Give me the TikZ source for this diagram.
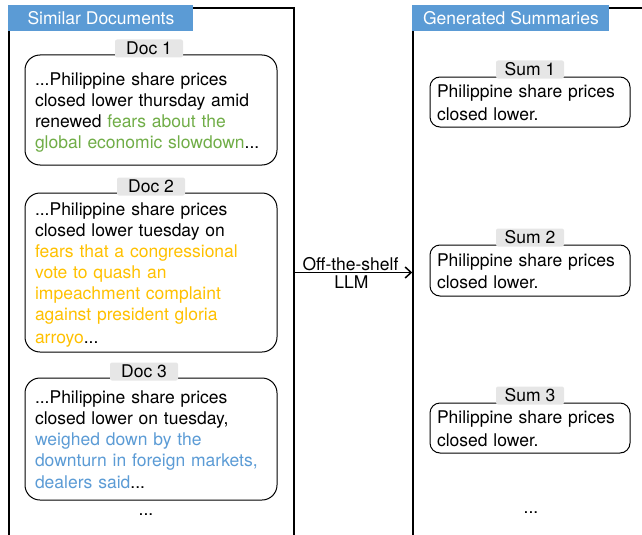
\documentclass[tikz,border=0pt]{standalone}
\usepackage{fontspec}
\setmainfont{TeX Gyre Heros}
\usepackage{tikz}
\usetikzlibrary{arrows.meta}

\definecolor{hdrblue}{HTML}{5B9BD5}
\definecolor{hlgreen}{HTML}{70AD47}
\definecolor{hlgold}{HTML}{FFC000}
\definecolor{hlblue}{HTML}{5B9BD5}
\definecolor{taggray}{HTML}{E6E6E6}

\newcommand{\linestrut}{\rule[-3.5pt]{0pt}{21pt}}

\tikzset{
    every node/.style={font=\fontsize{17.5}{21}\selectfont},
    panel/.style={draw, line width=1.5pt, minimum height=529pt, inner sep=0pt},
    header/.style={fill=hdrblue, text=white, minimum height=26pt, inner sep=0pt, anchor=north west},
    docbox/.style={draw, line width=1pt, rounded corners=15pt, minimum width=252pt, text width=232pt, inner xsep=10pt, inner ysep=0pt, align=left,
        execute at begin node=\linestrut, execute at end node=\linestrut},
    sumbox/.style={draw, line width=1pt, rounded corners=10pt, minimum width=200pt, text width=186pt, inner xsep=7pt, inner ysep=0pt, align=left,
        execute at begin node=\linestrut, execute at end node=\linestrut},
    tag/.style={fill=taggray, rounded corners=2pt, minimum width=68pt, minimum height=18pt, inner sep=0pt},
    llm/.style={-{Straight Barb[length=6pt, width=11pt]}, line width=1.5pt}
}

\begin{document}
\begin{tikzpicture}[x=1pt, y=-1pt]
    \useasboundingbox (0,0) rectangle (642,535);
    \clip (0,0) rectangle (642,535);

    % Panels
    \node[panel, minimum width=285pt] (docpanel) at (151.5,272.5) {};
    \node[panel, minimum width=257pt] (sumpanel) at (541.5,272.5) {};
    \node[header, minimum width=185pt] (dochead) at ([yshift=2pt]docpanel.north west) {Similar Documents};
    \node[header, minimum width=197pt] (sumhead) at ([yshift=2pt]sumpanel.north west) {Generated Summaries};

    % Documents
    \node[docbox, minimum height=110pt] (doc1) at (151,110) {...Philippine share prices\\
        closed lower thursday amid\\
        renewed \textcolor{hlgreen}{fears about the}\\
        \textcolor{hlgreen}{global economic slowdown}...};
    \node[docbox, minimum height=159pt] (doc2) at (151,272.5) {...Philippine share prices\\
        closed lower tuesday on\\
        \textcolor{hlgold}{fears that a congressional}\\
        \textcolor{hlgold}{vote to quash an}\\
        \textcolor{hlgold}{impeachment complaint}\\
        \textcolor{hlgold}{against president gloria}\\
        \textcolor{hlgold}{arroyo}...};
    \node[docbox, minimum height=122pt] (doc3) at (151,439) {...Philippine share prices\\
        closed lower on tuesday,\\
        \textcolor{hlblue}{weighed down by the}\\
        \textcolor{hlblue}{downturn in foreign markets,}\\
        \textcolor{hlblue}{dealers said}...};
    \node[tag] (doctag1) at ([xshift=-2pt, yshift=6pt]doc1.north) {Doc 1};
    \node[tag] (doctag2) at ([yshift=6pt]doc2.north) {Doc 2};
    \node[tag] (doctag3) at ([xshift=-7pt, yshift=6pt]doc3.north) {Doc 3};
    \node (docdots) at (146,515) {...};

    % Summaries
    \node[sumbox, minimum height=50pt] (sum1) at (530,102) {Philippine share prices\\ closed lower.};
    \node[sumbox, minimum height=51pt] (sum2) at (530,270.5) {Philippine share prices\\ closed lower.};
    \node[sumbox, minimum height=50pt] (sum3) at (530,428) {Philippine share prices\\ closed lower.};
    \node[tag] (sumtag1) at ([yshift=7pt]sum1.north) {Sum 1};
    \node[tag] (sumtag2) at ([yshift=7pt]sum2.north) {Sum 2};
    \node[tag] (sumtag3) at ([yshift=7pt]sum3.north) {Sum 3};
    \node (sumdots) at (531,513) {...};

    % Model
    \draw[llm] (docpanel.east) -- (sumpanel.west)
        node[midway, above, inner sep=1pt, xshift=-3pt] {Off-the-shelf}
        node[midway, below, inner sep=2pt, xshift=-2pt] {LLM};
\end{tikzpicture}
\end{document}
